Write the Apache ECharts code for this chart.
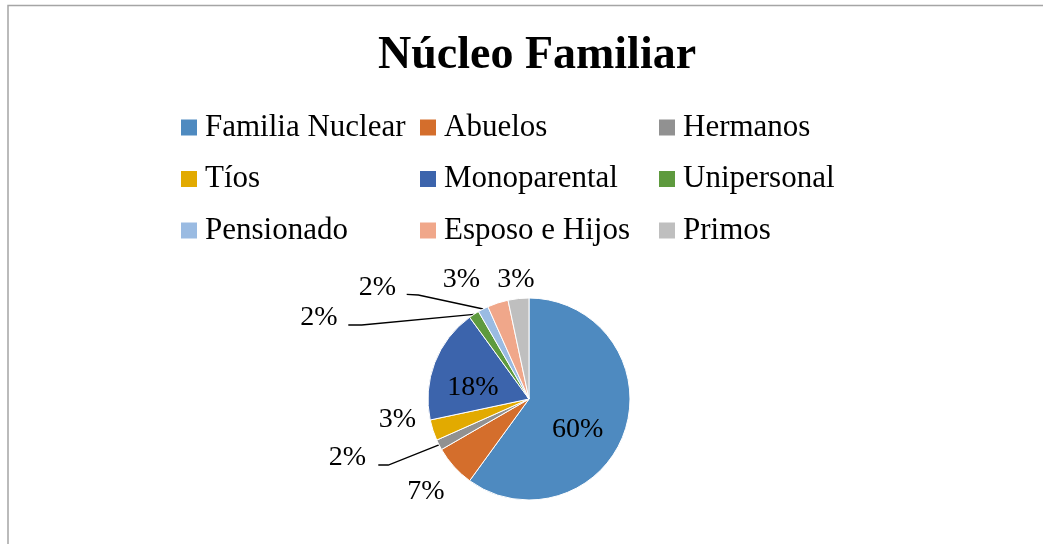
<!DOCTYPE html>
<html>
<head>
<meta charset="utf-8">
<script src="https://cdn.jsdelivr.net/npm/echarts@6/dist/echarts.min.js"></script>
<style>
html,body{margin:0;padding:0;background:#fff;}
#chart{width:1043px;height:544px;}
</style>
</head>
<body>
<div id="chart"></div>
<script>
const categories = ['Familia Nuclear', 'Abuelos', 'Hermanos', 'Tíos', 'Monoparental', 'Unipersonal', 'Pensionado', 'Esposo e Hijos', 'Primos'];
const values = [36, 4, 1, 2, 11, 1, 1, 2, 2];
const colors = ['#4E8AC0', '#D46E2C', '#919191', '#E2AA00', '#3C64AC', '#5E9A3E', '#9ABBE2', '#F0A78A', '#BFBFBF'];
const legendCols = [
  ['Familia Nuclear', 'Tíos', 'Pensionado'],
  ['Abuelos', 'Monoparental', 'Esposo e Hijos'],
  ['Hermanos', 'Unipersonal', 'Primos']
];

// style: pie geometry and label placement (relative to pie centre)
const CX = 529, CY = 399, R = 101;
const labelOffsets = [[48.7, 30.2], [-103, 92.7], [-181.5, 59], [-131.5, 21], [-56, -11.5], [-210, -81], [-151.5, -111], [-67.5, -119], [-13, -119]];
const leaderBends = { 2: [[-140.7, 66], [-150.7, 66]], 5: [[-167.3, -74], [-180.7, -74]], 6: [[-110.7, -104], [-122.3, -104.7]] };
const FONT = "'Times New Roman', 'Liberation Serif', serif";

const total = values.reduce((a, b) => a + b, 0);
const midAngles = [];
(function () {
  let acc = 0;
  values.forEach(v => { midAngles.push((acc + v / 2) / total * 2 * Math.PI); acc += v; });
})();

const chart = echarts.init(document.getElementById('chart'));
const legendColLeft = [181, 420, 659];
const legends = legendCols.map((col, i) => ({
  orient: 'vertical',
  left: legendColLeft[i],
  top: 112,
  padding: 0,
  itemWidth: 16,
  itemHeight: 16,
  itemGap: 20.5,
  icon: 'rect',
  selectedMode: false,
  itemStyle: { borderWidth: 0 },
  data: col,
  textStyle: { fontFamily: FONT, fontSize: 31, lineHeight: 30, color: '#000', padding: [0, 0, 0, 3] }
}));

chart.setOption({
  animation: false,
  backgroundColor: '#fff',
  title: {
    text: 'Núcleo Familiar',
    left: 378,
    top: 33,
    padding: 0,
    textStyle: { fontFamily: FONT, fontSize: 46, fontWeight: 'bold', color: '#000' }
  },
  legend: legends,
  graphic: [{
    type: 'polyline',
    shape: { points: [[8, 544], [8, 5.5], [1043, 5.5]] },
    style: { stroke: '#a5a5a5', lineWidth: 1.5, fill: null },
    silent: true
  }],
  series: [{
    type: 'pie',
    center: [CX, CY],
    radius: R,
    startAngle: 90,
    clockwise: true,
    avoidLabelOverlap: false,
    itemStyle: { borderColor: '#ffffff', borderWidth: 1 },
    label: {
      show: true,
      position: 'outside',
      fontFamily: FONT,
      fontSize: 28,
      color: '#000',
      formatter: p => Math.round(p.value / total * 100) + '%'
    },
    labelLine: { show: true, lineStyle: { color: '#000', width: 1.3 } },
    labelLayout: function (params) {
      const i = params.dataIndex;
      const off = labelOffsets[i];
      const res = { x: CX + off[0], y: CY + off[1], align: 'center', verticalAlign: 'middle' };
      const bend = leaderBends[i];
      if (bend) {
        const a = midAngles[i];
        res.labelLinePoints = [
          [CX + R * Math.sin(a), CY - R * Math.cos(a)],
          [CX + bend[0][0], CY + bend[0][1]],
          [CX + bend[1][0], CY + bend[1][1]]
        ];
      }
      return res;
    },
    data: categories.map((name, i) => ({
      name: name,
      value: values[i],
      itemStyle: { color: colors[i] },
      labelLine: { show: !!leaderBends[i] }
    }))
  }]
});
</script>
</body>
</html>
